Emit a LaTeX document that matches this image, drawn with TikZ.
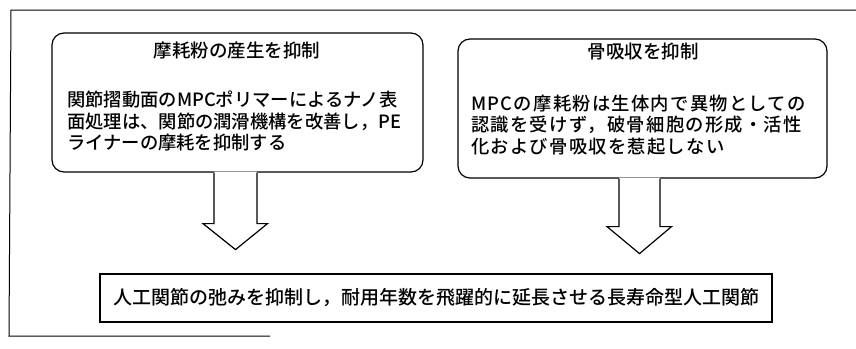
\documentclass[tikz,border=0pt]{standalone}
\usepackage{fontspec}
\usetikzlibrary{calc}
\setmainfont{Noto Sans CJK JP}[UprightFont={* Medium}]
\newfontfamily\jpw{Noto Sans CJK JP}[UprightFont={* Medium},LetterSpace=7]
\begin{document}
\begin{tikzpicture}[x=1pt,y=-1pt,
  frame/.style={line width=1pt},
  rbox/.style={draw,line width=1.2pt,rounded corners=12pt},
  sbox/.style={draw,line width=1.1pt},
  txt/.style={inner sep=0pt,font=\fontsize{18.3}{21.5}\selectfont},
  ttl/.style={inner sep=0pt,font=\fontsize{18.5}{21}\selectfont},
  arrline/.style={draw,line width=1.2pt,line join=miter}]
\useasboundingbox (0,0) rectangle (856,348);
% outer frame (partial, as printed)
\coordinate (f1) at (856,10);
\coordinate (f2) at (11,10);
\coordinate (f3) at (9,336);
\coordinate (f4) at (270,336);
\draw[frame] (f1) -- (f2) -- (f3) -- (f4);
% boxes
\node[rbox,minimum width=371pt,minimum height=139pt] (L) at (237.5,102.5) {};
\node[rbox,minimum width=369pt,minimum height=139pt] (R) at (642.5,108.5) {};
\node[sbox,minimum width=672pt,minimum height=48pt,inner sep=0pt] (B) at (436,298)
  {\fontsize{19}{22}\selectfont 人工関節の弛みを抑制し，耐用年数を飛躍的に延長させる長寿命型人工関節};
% titles
\node[ttl] (Lt) at (237,50) {摩耗粉の産生を抑制};
\node[ttl] (Rt) at (643,51) {骨吸収を抑制};
% bodies
\node[txt,anchor=west,align=left] (Lb) at (67,121)
  {関節摺動面のMPCポリマーによるナノ表\\面処理は、関節の潤滑機構を改善し，PE\\ライナーの摩耗を抑制する};
\node[txt,anchor=west,align=left] (Rb) at (471,125)
  {\jpw MPCの摩耗粉は生体内で異物としての\\\jpw 認識を受けず，破骨細胞の形成・活性\\\jpw 化および骨吸収を惹起しない};
% block arrows (open at the top, joined to the box above)
\coordinate (La) at ($(L.south)+(-2,0)$);
\coordinate (Ra) at ($(R.south)+(-3,0)$);
\fill[white] ($(La)+(-21.5,-1)$) -- ($(La)+(-21.5,51)$) -- ($(La)+(-32.5,51)$) -- ($(La)+(0,77)$)
  -- ($(La)+(32,51)$) -- ($(La)+(21.5,51)$) -- ($(La)+(21.5,-1)$) -- cycle;
\draw[arrline] ($(La)+(-21.5,0)$) -- ($(La)+(-21.5,51)$) -- ($(La)+(-32.5,51)$) -- ($(La)+(0,77)$)
  -- ($(La)+(32,51)$) -- ($(La)+(21.5,51)$) -- ($(La)+(21.5,0)$);
\fill[white] ($(Ra)+(-20.5,-1)$) -- ($(Ra)+(-20.5,48)$) -- ($(Ra)+(-32.5,48)$) -- ($(Ra)+(0,75)$)
  -- ($(Ra)+(32,48)$) -- ($(Ra)+(20.5,48)$) -- ($(Ra)+(20.5,-1)$) -- cycle;
\draw[arrline] ($(Ra)+(-20.5,0)$) -- ($(Ra)+(-20.5,48)$) -- ($(Ra)+(-32.5,48)$) -- ($(Ra)+(0,75)$)
  -- ($(Ra)+(32,48)$) -- ($(Ra)+(20.5,48)$) -- ($(Ra)+(20.5,0)$);
\end{tikzpicture}
\end{document}
